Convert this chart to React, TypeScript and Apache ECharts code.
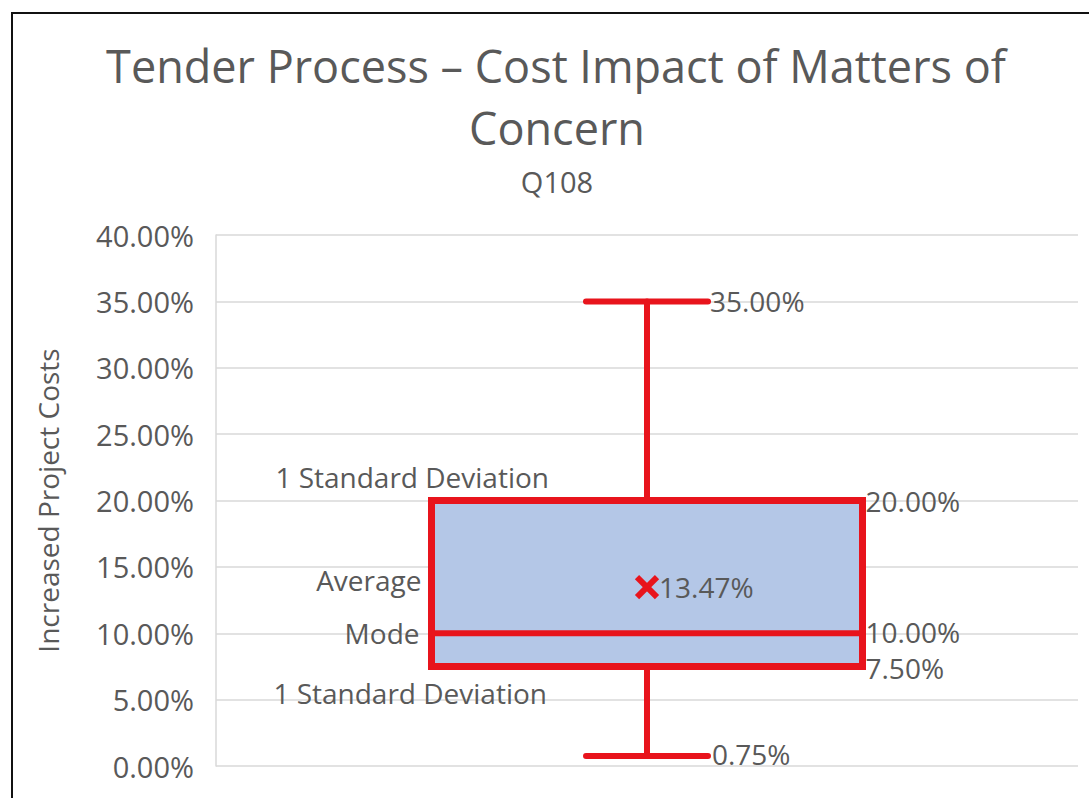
import React, { useEffect, useRef } from "react";
import * as echarts from "echarts";

const categories = ["Q108"];
const minVals = [0.0075];
const q1Vals = [0.075];
const modeVals = [0.1];
const q3Vals = [0.2];
const maxVals = [0.35];
const meanVals = [0.1347];

const titleLine1 = "Tender Process – Cost Impact of Matters of";
const titleLine2 = "Concern";
const subtitle = "Q108";
const yAxisName = "Increased Project Costs";
const sdLabel = "1 Standard Deviation";
const avgLabel = "Average";
const modeLabel = "Mode";

const FONT = "'Open Sans', 'Noto Sans', sans-serif";
const GRAY = "#595959";
const RED = "#e8141c";
const FILL = "#b4c7e7";

const pct = (v: number) => (v * 100).toFixed(2) + "%";

export default function App() {
  const ref = useRef<HTMLDivElement>(null);
  useEffect(() => {
    if (!ref.current) return;
    const chart = echarts.init(ref.current, null, { renderer: "svg" });
    const data = categories.map((c, i) => [
      i,
      minVals[i],
      q1Vals[i],
      modeVals[i],
      q3Vals[i],
      maxVals[i],
      meanVals[i],
    ]);
    const txt = (text: string, x: number, y: number, align: string) => ({
      type: "text",
      style: {
        text,
        x,
        y,
        align,
        verticalAlign: "middle",
        fill: GRAY,
        fontSize: 28,
        lineHeight: 28,
        fontFamily: FONT,
      },
      z2: 10,
    });
    const option: any = {
      animation: false,
      backgroundColor: "#ffffff",
      grid: { left: 216, right: 11, top: 235, bottom: 32 },
      xAxis: {
        type: "category",
        data: categories,
        axisLine: { show: false },
        axisTick: { show: false },
        axisLabel: { show: false },
        splitLine: { show: false },
      },
      yAxis: {
        type: "value",
        min: 0,
        max: 0.4,
        interval: 0.05,
        name: yAxisName,
        nameLocation: "middle",
        nameGap: 154,
        nameTextStyle: { color: GRAY, fontSize: 28, fontFamily: FONT },
        axisLine: { show: true, lineStyle: { color: "#d9d9d9", width: 1.5 } },
        axisTick: { show: false },
        axisLabel: {
          formatter: (v: number) => pct(v),
          color: GRAY,
          fontSize: 29,
          fontFamily: FONT,
          margin: 22,
        },
        splitLine: { lineStyle: { color: "#d9d9d9", width: 1.5 } },
      },
      graphic: [
        {
          type: "rect",
          shape: { x: 12, y: 13, width: 1200, height: 900 },
          style: { fill: "none", stroke: "#111", lineWidth: 2 },
          silent: true,
        },
        {
          type: "text",
          style: {
            text: titleLine1,
            x: 556,
            y: 65,
            align: "center",
            verticalAlign: "middle",
            fill: GRAY,
            fontSize: 45,
            fontFamily: FONT,
          },
        },
        {
          type: "text",
          style: {
            text: titleLine2,
            x: 557,
            y: 127,
            align: "center",
            verticalAlign: "middle",
            fill: GRAY,
            fontSize: 45,
            fontFamily: FONT,
          },
        },
        {
          type: "text",
          style: {
            text: subtitle,
            x: 557,
            y: 181,
            align: "center",
            verticalAlign: "middle",
            fill: GRAY,
            fontSize: 29,
            fontFamily: FONT,
          },
        },
      ],
      series: [
        {
          type: "custom",
          data,
          renderItem: (params: any, api: any) => {
            const xi = api.value(0);
            const [cx, yMin] = api.coord([xi, api.value(1)]);
            const yQ1 = api.coord([xi, api.value(2)])[1];
            const yMode = api.coord([xi, api.value(3)])[1];
            const yQ3 = api.coord([xi, api.value(4)])[1];
            const yMax = api.coord([xi, api.value(5)])[1];
            const yMean = api.coord([xi, api.value(6)])[1];
            const band = api.size([1, 0])[0];
            const boxW = band * 0.5;
            const capW = band * 0.1415;
            const bl = cx - boxW / 2;
            const br = cx + boxW / 2;
            const lineStyle = { stroke: RED, lineWidth: 6, lineCap: "round" };
            const xs = 10;
            return {
              type: "group",
              children: [
                { type: "line", shape: { x1: cx, y1: yMax, x2: cx, y2: yQ3 }, style: lineStyle },
                { type: "line", shape: { x1: cx, y1: yQ1, x2: cx, y2: yMin }, style: lineStyle },
                { type: "line", shape: { x1: cx - capW / 2, y1: yMax, x2: cx + capW / 2, y2: yMax }, style: lineStyle },
                { type: "line", shape: { x1: cx - capW / 2, y1: yMin, x2: cx + capW / 2, y2: yMin }, style: lineStyle },
                {
                  type: "rect",
                  shape: { x: bl, y: yQ3, width: boxW, height: yQ1 - yQ3 },
                  style: { fill: FILL, stroke: RED, lineWidth: 7 },
                },
                { type: "line", shape: { x1: bl, y1: yMode, x2: br, y2: yMode }, style: { stroke: RED, lineWidth: 6 } },
                {
                  type: "line",
                  shape: { x1: cx - xs, y1: yMean - xs, x2: cx + xs, y2: yMean + xs },
                  style: { stroke: RED, lineWidth: 6 },
                },
                {
                  type: "line",
                  shape: { x1: cx - xs, y1: yMean + xs, x2: cx + xs, y2: yMean - xs },
                  style: { stroke: RED, lineWidth: 6 },
                },
                txt(pct(api.value(5)), cx + capW / 2 + 2, yMax, "left"),
                txt(pct(api.value(1)), cx + capW / 2 + 4, yMin - 2, "left"),
                txt(pct(api.value(4)), br + 3, yQ3, "left"),
                txt(pct(api.value(3)), br + 3, yMode - 1, "left"),
                txt(pct(api.value(2)), br + 3, yQ1 + 2, "left"),
                txt(pct(api.value(6)), cx + 12, yMean, "left"),
                txt(sdLabel, cx - 98, yQ3 - 24, "right"),
                txt(avgLabel, bl - 10, yMean - 7, "right"),
                txt(modeLabel, bl - 12, yMode, "right"),
                txt(sdLabel, cx - 100, yQ1 + 27, "right"),
              ],
            };
          },
        },
      ],
    };
    chart.setOption(option);
    return () => chart.dispose();
  }, []);
  return (
    <div
      ref={ref}
      style={{ position: "fixed", left: 0, top: 0, width: 1089, height: 798 }}
    />
  );
}
